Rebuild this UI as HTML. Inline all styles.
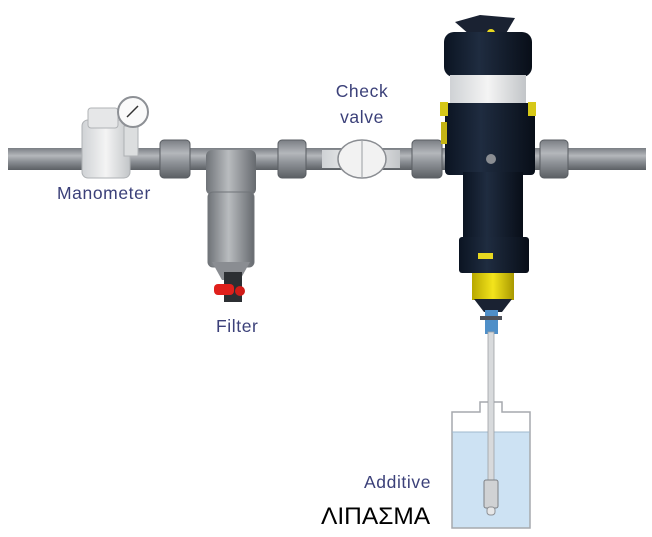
<!DOCTYPE html>
<html><head><meta charset="utf-8"><style>
html,body{margin:0;padding:0;background:#fff;width:652px;height:537px;overflow:hidden}
svg{display:block}
text{font-family:"Liberation Sans",sans-serif}
</style></head><body>
<svg width="652" height="537" viewBox="0 0 652 537">
<defs>
<linearGradient id="pipe" x1="0" y1="0" x2="0" y2="1">
<stop offset="0" stop-color="#7a7e84"/><stop offset="0.35" stop-color="#b4b7bb"/><stop offset="0.6" stop-color="#8e9297"/><stop offset="1" stop-color="#5b5f64"/></linearGradient>
<linearGradient id="blk" x1="0" y1="0" x2="1" y2="0">
<stop offset="0" stop-color="#0b1422"/><stop offset="0.4" stop-color="#1f2c40"/><stop offset="1" stop-color="#080e18"/></linearGradient>
<linearGradient id="filt" x1="0" y1="0" x2="1" y2="0">
<stop offset="0" stop-color="#6f7378"/><stop offset="0.45" stop-color="#b9bcbf"/><stop offset="1" stop-color="#666a6f"/></linearGradient>
<linearGradient id="wb" x1="0" y1="0" x2="1" y2="0">
<stop offset="0" stop-color="#cfd2d5"/><stop offset="0.5" stop-color="#f4f4f4"/><stop offset="1" stop-color="#c2c5c8"/></linearGradient>
<linearGradient id="yel" x1="0" y1="0" x2="1" y2="0">
<stop offset="0" stop-color="#b8a800"/><stop offset="0.5" stop-color="#f3e41c"/><stop offset="1" stop-color="#a89800"/></linearGradient>
</defs>
<rect x="8" y="148" width="638" height="22" fill="url(#pipe)"/>
<rect x="160" y="140" width="30" height="38" rx="4" fill="url(#pipe)" stroke="#5a5e63" stroke-width="1"/>
<rect x="278" y="140" width="28" height="38" rx="4" fill="url(#pipe)" stroke="#5a5e63" stroke-width="1"/>
<rect x="412" y="140" width="30" height="38" rx="4" fill="url(#pipe)" stroke="#5a5e63" stroke-width="1"/>
<rect x="540" y="140" width="28" height="38" rx="4" fill="url(#pipe)" stroke="#5a5e63" stroke-width="1"/>
<rect x="322" y="150" width="78" height="18" fill="url(#wb)"/>
<ellipse cx="362" cy="159" rx="24" ry="19" fill="#f2f2f2" stroke="#8a8d92" stroke-width="1.5"/>
<line x1="362" y1="141" x2="362" y2="177" stroke="#9a9da2"/>
<rect x="82" y="120" width="48" height="58" rx="6" fill="url(#wb)" stroke="#aeb1b4"/>
<rect x="88" y="108" width="30" height="20" rx="3" fill="#e6e7e8" stroke="#b0b3b6"/>
<rect x="124" y="126" width="14" height="30" fill="#dcdedf" stroke="#aeb1b4"/>
<circle cx="133" cy="112" r="15" fill="#fafafa" stroke="#8d9095" stroke-width="2"/>
<line x1="127" y1="117" x2="138" y2="106" stroke="#333" stroke-width="1.5"/>
<rect x="206" y="150" width="50" height="45" rx="6" fill="url(#filt)"/>
<rect x="208" y="192" width="46" height="75" rx="5" fill="url(#filt)" stroke="#707479"/>
<path d="M212 262 L250 262 L240 280 L222 280 Z" fill="#8a8d92"/>
<rect x="224" y="272" width="18" height="30" fill="#2c2f33"/>
<rect x="214" y="284" width="20" height="11" rx="4" fill="#e0201c"/>
<circle cx="240" cy="291" r="5" fill="#d01c18"/>
<path d="M455 22 L480 15 L515 18 L505 35 L470 35 Z" fill="#1a2232"/>
<circle cx="491" cy="33" r="4" fill="#e8d820"/>
<rect x="444" y="32" width="88" height="45" rx="10" fill="url(#blk)"/>
<rect x="450" y="75" width="76" height="30" fill="url(#wb)"/>
<rect x="445" y="103" width="90" height="72" rx="4" fill="url(#blk)"/>
<rect x="440" y="102" width="8" height="14" fill="#d6c818"/>
<rect x="528" y="102" width="8" height="14" fill="#d6c818"/>
<rect x="441" y="122" width="6" height="22" fill="#c4b414"/>
<circle cx="491" cy="159" r="5" fill="#8a8d92"/>
<rect x="463" y="172" width="60" height="66" fill="url(#blk)"/>
<rect x="459" y="237" width="70" height="36" rx="3" fill="url(#blk)"/>
<rect x="478" y="253" width="15" height="6" fill="#e8d820"/>
<rect x="472" y="273" width="42" height="27" fill="url(#yel)"/>
<path d="M474 299 L512 299 L502 312 L484 312 Z" fill="#1a2232"/>
<rect x="485" y="310" width="13" height="24" fill="#4f8fc8"/>
<rect x="480" y="316" width="22" height="4" fill="#4d5058"/>
<path d="M452 432 L452 528 L530 528 L530 432 Z" fill="#cde2f3"/>
<path d="M452 412 L480 412 L480 402 L502 402 L502 412 L530 412 L530 528 L452 528 Z" fill="none" stroke="#a6a9ad" stroke-width="1.5"/>
<line x1="452" y1="432" x2="530" y2="432" stroke="#9fb8cd"/>
<rect x="488" y="332" width="6" height="150" fill="#d8dadc" stroke="#9da0a4" stroke-width="0.8"/>
<rect x="484" y="480" width="14" height="28" rx="2" fill="#d0d2d4" stroke="#7d8085"/>
<rect x="487" y="507" width="8" height="8" rx="3" fill="#e6e7e8" stroke="#8d9095"/>
<g fill="#3b4079" font-size="17.5" letter-spacing="0.6">
<text x="57" y="199">Manometer</text>
<text x="362" y="97" text-anchor="middle">Check</text>
<text x="362" y="123" text-anchor="middle">valve</text>
<text x="216" y="332">Filter</text>
<text x="364" y="488">Additive</text>
</g>
<text x="321" y="524" font-size="24.5" fill="#000">ΛΙΠΑΣΜΑ</text>
</svg>
</body></html>
